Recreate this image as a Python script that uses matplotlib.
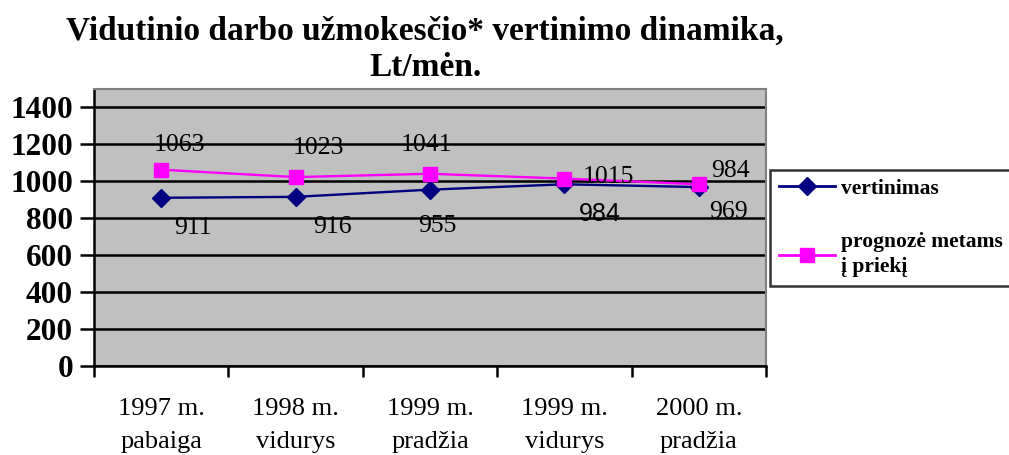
import matplotlib
matplotlib.use("Agg")
import matplotlib.pyplot as plt

categories = ["1997 m.\npabaiga", "1998 m.\nvidurys", "1999 m.\npradžia",
              "1999 m.\nvidurys", "2000 m.\npradžia"]
vertinimas = [911, 916, 955, 984, 969]
prognoze = [1063, 1023, 1041, 1015, 984]
yticks = [0, 200, 400, 600, 800, 1000, 1200, 1400]
title_lines = ["Vidutinio darbo užmokesčio* vertinimo dinamika,", "Lt/mėn."]

serif = ["Liberation Serif", "DejaVu Serif"]

fig = plt.figure(figsize=(10.09, 4.55), dpi=100)
ax = fig.add_axes([94/1009, 1 - 366/455, (766 - 94)/1009, (366 - 89)/455])
ax.set_facecolor("#c0c0c0")

x = list(range(len(categories)))
ax.plot(x, vertinimas, color="#000080", lw=1.7, marker="D", ms=9,
        label="vertinimas", zorder=3)
ax.plot(x, prognoze, color="#ff00ff", lw=1.7, marker="s", ms=10.5,
        label="prognozė metams\nį priekį", zorder=3)

# label offsets in pixels (dx, dy)
off_p = [(18, 25), (23, 29), (-4, 29), (44, 2), (32, 13)]
off_v = [(32, -30), (37, -30), (7, -36), (35, -30), (30, -25)]
for i in x:
    ax.annotate(str(prognoze[i]), (i, prognoze[i]), xytext=off_p[i],
                textcoords="offset pixels", ha="center", va="center",
                fontsize=18.5, family=serif)
    fam = ["Liberation Sans"] if i == 3 else serif
    ax.annotate(str(vertinimas[i]), (i, vertinimas[i]), xytext=off_v[i],
                textcoords="offset pixels", ha="center", va="center",
                fontsize=18 if i == 3 else 18.5, family=fam)

ax.set_xlim(-0.5, len(categories) - 0.5)
ax.set_ylim(0, 1500)
ax.set_yticks(yticks)
ax.set_yticklabels([str(v) for v in yticks], fontsize=22.5, fontweight="bold",
                   family=serif)
ax.yaxis.grid(True, color="black", lw=1.8)
ax.set_axisbelow(True)
ax.set_xticks([i - 0.5 for i in range(len(categories) + 1)])
ax.set_xticklabels([])
ax.set_xticks(x, minor=True)
ax.set_xticklabels(categories, minor=True, fontsize=19, family=serif,
                   linespacing=1.65)
ax.tick_params(axis="x", which="minor", length=0, pad=23)
ax.tick_params(axis="x", which="major", length=8, width=1.8, direction="out")
ax.tick_params(axis="y", length=10, width=1.8, direction="out", pad=5)

for s in ["left", "bottom"]:
    ax.spines[s].set_color("black")
    ax.spines[s].set_linewidth(1.8)
for s in ["top", "right"]:
    ax.spines[s].set_color("#808080")
    ax.spines[s].set_linewidth(1.5)

fig.text(425/1009, 1 - 31/455, title_lines[0], ha="center", va="center",
         fontsize=24, fontweight="bold", family=serif)
fig.text(425/1009, 1 - 68/455, title_lines[1], ha="center", va="center",
         fontsize=24, fontweight="bold", family=serif)

leg = fig.legend(loc="upper left", bbox_to_anchor=(770/1009, 1 - 170/455),
                 prop={"family": serif, "weight": "bold", "size": 15.5},
                 frameon=True, fancybox=False, edgecolor="black",
                 handlelength=2.6, labelspacing=1.55, borderpad=0.4,
                 handletextpad=0.3, borderaxespad=0)
leg.get_frame().set_linewidth(1.8)
for t in leg.get_texts():
    t.set_linespacing(1.35)
for h in leg.legend_handles:
    h.set_linewidth(2)

fig.savefig("out.png", dpi=100)
